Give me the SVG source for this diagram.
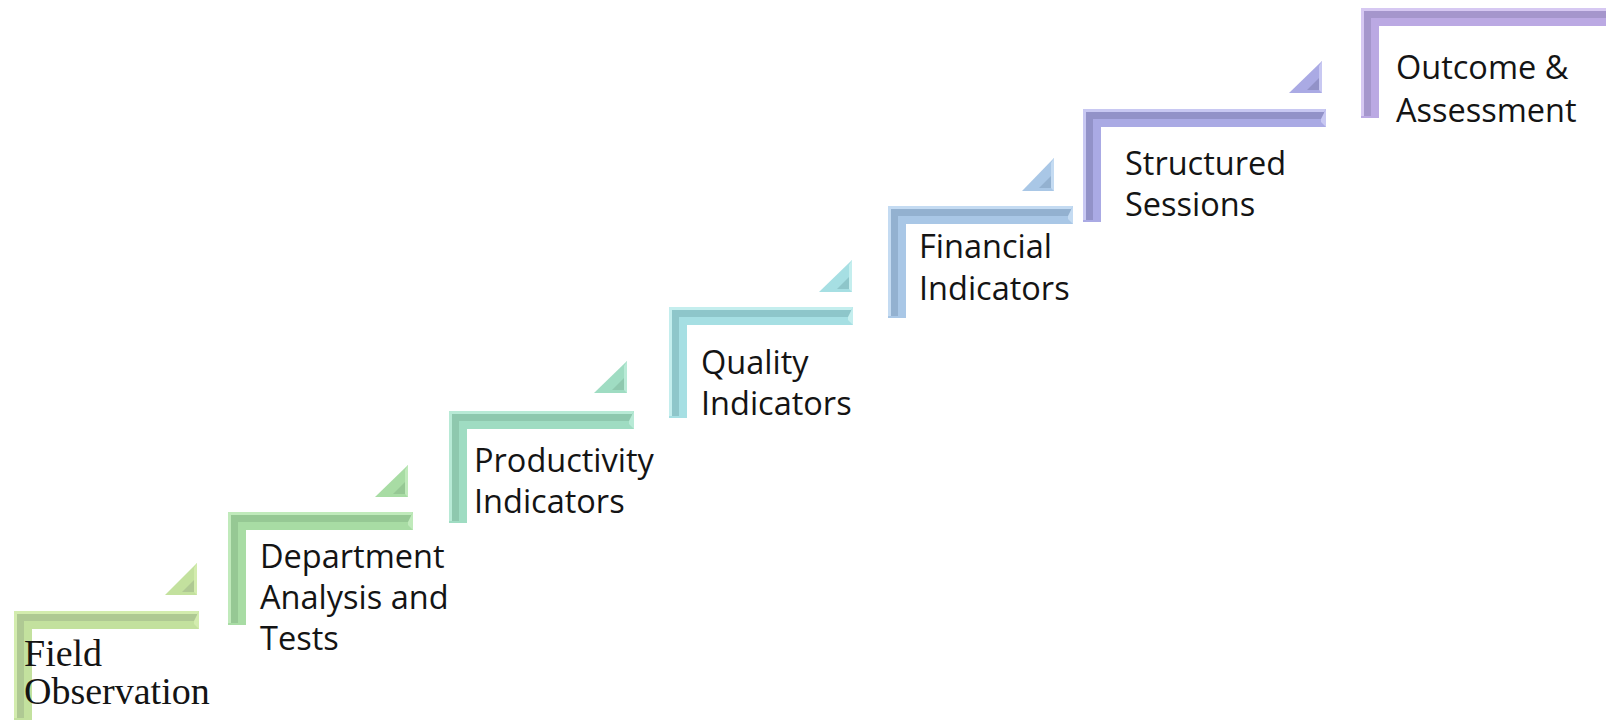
<svg xmlns="http://www.w3.org/2000/svg" width="1606" height="724" viewBox="0 0 1606 724">
<style>
.lbl{font-family:"Open Sans","Liberation Sans",sans-serif;font-size:32.5px;fill:#141414}
.ser{font-family:"Liberation Serif","Times New Roman",serif;font-size:38px;fill:#141414}
.c1 .l{fill:#d3ecae}.c1 .d{fill:#afc993}.c1 .f{fill:#c3e19e}
.c2 .l{fill:#c0eabb}.c2 .d{fill:#96c894}.c2 .f{fill:#a8dca4}
.c3 .l{fill:#b8ead6}.c3 .d{fill:#8ec8ae}.c3 .f{fill:#9fdcc2}
.c4 .l{fill:#c4eeee}.c4 .d{fill:#8ec6ca}.c4 .f{fill:#a6dfe3}
.c5 .l{fill:#c4dbf2}.c5 .d{fill:#93b1d0}.c5 .f{fill:#a9c7e6}
.c6 .l{fill:#c8c8f2}.c6 .d{fill:#9292c8}.c6 .f{fill:#aaaae4}
.c7 .l{fill:#d6c8f2}.c7 .d{fill:#a596cc}.c7 .f{fill:#bba9e3}
</style>
<rect width="1606" height="724" fill="#ffffff"/>

<g id="connectors">
  <g class="c1"><polygon class="f" points="165,595 197,563 197,595"/><polygon class="d" points="182,592 194,580 194,592"/><polygon class="l" points="194,568 197,563 197,595 194,592"/></g>
  <g class="c2"><polygon class="f" points="375,497 408,465 408,497"/><polygon class="d" points="393,494 405,482 405,494"/><polygon class="l" points="405,470 408,465 408,497 405,494"/></g>
  <g class="c3"><polygon class="f" points="594,393 627,361 627,393"/><polygon class="d" points="612,390 624,378 624,390"/><polygon class="l" points="624,366 627,361 627,393 624,390"/></g>
  <g class="c4"><polygon class="f" points="819,292 852,260 852,292"/><polygon class="d" points="837,289 849,277 849,289"/><polygon class="l" points="849,265 852,260 852,292 849,289"/></g>
  <g class="c5"><polygon class="f" points="1022,191 1054,158 1054,191"/><polygon class="d" points="1039,188 1051,176 1051,188"/><polygon class="l" points="1051,163 1054,158 1054,191 1051,188"/></g>
  <g class="c6"><polygon class="f" points="1289,93 1322,61 1322,93"/><polygon class="d" points="1307,90 1319,78 1319,90"/><polygon class="l" points="1319,66 1322,61 1322,93 1319,90"/></g>
</g>

<g id="step1" class="c1">
  <path class="f" d="M14 611H199V629H32V720H14Z"/>
  <path class="l" d="M14 611H199L197 614H17V718H14Z"/>
  <path class="d" d="M17 614H197V621H24V718H17Z"/>
  <path class="l" d="M199 611V629L194 624V621Z"/>
  <text class="ser" x="24" y="666">Field</text>
  <text class="ser" x="24" y="704">Observation</text>
</g>

<g id="step2" class="c2">
  <path class="f" d="M228 512H413V530H246V625H228Z"/>
  <path class="l" d="M228 512H413L411 515H231V623H228Z"/>
  <path class="d" d="M231 515H411V522H238V623H231Z"/>
  <path class="l" d="M413 512V530L408 525V522Z"/>
  <text class="lbl" x="260" y="568">Department</text>
  <text class="lbl" x="260" y="609">Analysis and</text>
  <text class="lbl" x="260" y="650">Tests</text>
</g>

<g id="step3" class="c3">
  <path class="f" d="M449 411H634V429H467V523H449Z"/>
  <path class="l" d="M449 411H634L632 414H452V521H449Z"/>
  <path class="d" d="M452 414H632V421H459V521H452Z"/>
  <path class="l" d="M634 411V429L629 424V421Z"/>
  <text class="lbl" x="474" y="472">Productivity</text>
  <text class="lbl" x="474" y="513">Indicators</text>
</g>

<g id="step4" class="c4">
  <path class="f" d="M669 307H853V325H687V418H669Z"/>
  <path class="l" d="M669 307H853L851 310H672V416H669Z"/>
  <path class="d" d="M672 310H851V317H679V416H672Z"/>
  <path class="l" d="M853 307V325L848 320V317Z"/>
  <text class="lbl" x="701" y="374">Quality</text>
  <text class="lbl" x="701" y="415">Indicators</text>
</g>

<g id="step5" class="c5">
  <path class="f" d="M888 206H1073V224H906V318H888Z"/>
  <path class="l" d="M888 206H1073L1071 209H891V316H888Z"/>
  <path class="d" d="M891 209H1071V216H898V316H891Z"/>
  <path class="l" d="M1073 206V224L1068 219V216Z"/>
  <text class="lbl" x="919" y="258">Financial</text>
  <text class="lbl" x="919" y="300">Indicators</text>
</g>

<g id="step6" class="c6">
  <path class="f" d="M1083 109H1326V127H1101V222H1083Z"/>
  <path class="l" d="M1083 109H1326L1324 112H1086V220H1083Z"/>
  <path class="d" d="M1086 112H1324V119H1093V220H1086Z"/>
  <path class="l" d="M1326 109V127L1321 122V119Z"/>
  <text class="lbl" x="1125" y="175">Structured</text>
  <text class="lbl" x="1125" y="216">Sessions</text>
</g>

<g id="step7" class="c7">
  <path class="f" d="M1361 8H1610V26H1379V118H1361Z"/>
  <path class="l" d="M1361 8H1610V11H1364V116H1361Z"/>
  <path class="d" d="M1364 11H1610V18H1371V116H1364Z"/>
  <text class="lbl" x="1396" y="79">Outcome &amp;</text>
  <text class="lbl" x="1396" y="122">Assessment</text>
</g>
</svg>
